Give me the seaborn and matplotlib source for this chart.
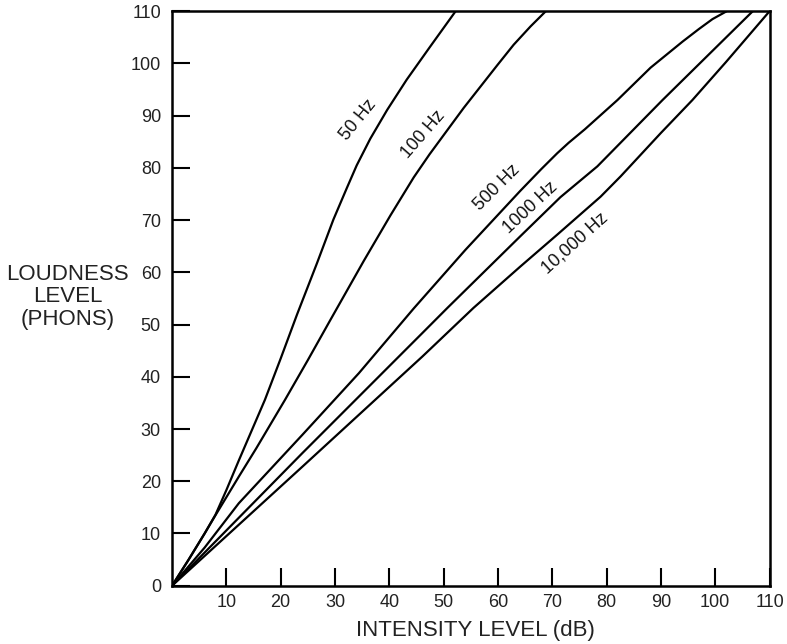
import matplotlib
matplotlib.use("Agg")
import matplotlib.pyplot as plt
import seaborn as sns
import pandas as pd

# Intensity level (dB) / loudness level (phons)
x_50 = [0, 3, 6, 8, 10, 12.3, 14.7, 17.1, 20, 23, 26.7, 29.7, 32.2, 34, 36.5, 39.6, 43.2, 47.5, 52.2]
y_50 = [0, 4.9, 10, 13.6, 18.3, 24, 29.8, 35.6, 43.5, 51.9, 61.8, 70.1, 76.2, 80.5, 85.6, 91.1, 96.9, 103.2, 110]

x_100 = [0, 3, 6, 8, 12.3, 15.5, 20.8, 25, 29.1, 35.3, 40.2, 44.5, 47.4, 50.3, 53.7, 56.8, 59.9, 62.9, 66, 68.8]
y_100 = [0, 4.9, 10, 13.5, 20.9, 26.3, 35.6, 43.2, 50.8, 62.2, 70.9, 78.2, 82.6, 86.7, 91.5, 95.6, 99.7, 103.6, 107.1, 110]

x_500 = [0, 6, 12.3, 24, 34.4, 44.5, 54, 64.1, 68, 70.9, 73, 76, 82, 88.1, 94, 97, 99.5, 102.1]
y_500 = [0, 7.3, 15.8, 28.9, 40.7, 53.1, 64.3, 75.6, 79.8, 82.8, 84.8, 87.4, 93, 99.2, 104.2, 106.6, 108.5, 110]

x_1000 = [0, 24, 46.1, 50.7, 64.1, 71.5, 78.3, 90.3, 106.9]
y_1000 = [0, 25.4, 48.4, 53.2, 66.9, 74.4, 80.3, 93, 110]

x_10000 = [0, 24, 46.1, 55.5, 64.1, 71, 78.9, 82.6, 90, 95.8, 102, 110]
y_10000 = [0, 22.8, 43.9, 53.2, 61.1, 67.3, 74.5, 78.4, 86.7, 93, 100.3, 110]

curve_names = ["50 Hz", "100 Hz", "500 Hz", "1000 Hz", "10,000 Hz"]
label_x = [34.3, 46.3, 59.9, 66.0, 74.1]
label_y = [89.3, 86.5, 76.3, 72.3, 65.6]
label_angle = [51, 49, 45, 43, 42]

x_ticks = [10, 20, 30, 40, 50, 60, 70, 80, 90, 100, 110]
y_ticks = [0, 10, 20, 30, 40, 50, 60, 70, 80, 90, 100, 110]

sns.set_theme(style="white")
plt.rcParams["font.family"] = ["Liberation Sans", "DejaVu Sans"]

fig = plt.figure(figsize=(7.87, 6.44), dpi=100)
ax = fig.add_axes([0.2186, 0.0905, 0.7592, 0.892])

series = [(x_50, y_50), (x_100, y_100), (x_500, y_500), (x_1000, y_1000), (x_10000, y_10000)]
for name, (xs, ys) in zip(curve_names, series):
    df = pd.DataFrame({"x": xs, "y": ys})
    sns.lineplot(data=df, x="x", y="y", sort=False, color="black", lw=1.6, ax=ax)

for name, lx, ly, ang in zip(curve_names, label_x, label_y, label_angle):
    ax.text(lx, ly, name, rotation=ang, rotation_mode="anchor", ha="center", va="center",
            fontsize=13, color="#111111")

ax.set_xlim(0, 110)
ax.set_ylim(0, 110)
ax.set_xticks(x_ticks)
ax.set_yticks(y_ticks)
ax.set_xticklabels([str(t) for t in x_ticks])
ax.set_yticklabels([str(t) for t in y_ticks])
ax.tick_params(axis="both", direction="in", length=13, width=1.5, color="black",
               labelsize=13, labelcolor="#222222", bottom=True, left=True)
ax.tick_params(axis="x", pad=6)
ax.tick_params(axis="y", pad=8)
for s in ax.spines.values():
    s.set_color("black")
    s.set_linewidth(1.8)
ax.set_xlabel("")
ax.set_ylabel("")

fig.text(0.6036, 0.021, "INTENSITY LEVEL (dB)", ha="center", va="center", fontsize=16, color="#222222")
fig.text(0.086, 0.539, "LOUDNESS\nLEVEL\n(PHONS)", ha="center", va="center", fontsize=16, color="#222222",
         linespacing=1.08)

fig.savefig("out.png", dpi=100)
